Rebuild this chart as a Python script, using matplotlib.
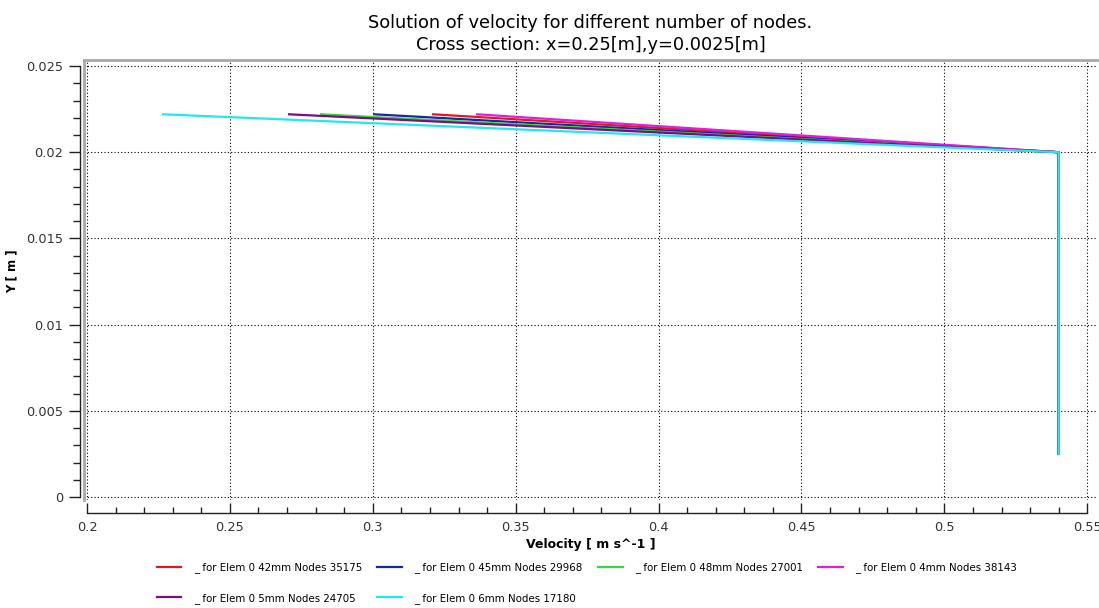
import matplotlib
matplotlib.use("Agg")
import matplotlib.pyplot as plt
from matplotlib.ticker import MultipleLocator

# velocity profiles for each mesh: top of the profile, corner point, wall
labels = [
    "_ for Elem 0 42mm Nodes 35175",
    "_ for Elem 0 45mm Nodes 29968",
    "_ for Elem 0 48mm Nodes 27001",
    "_ for Elem 0 4mm Nodes 38143",
    "_ for Elem 0 5mm Nodes 24705",
    "_ for Elem 0 6mm Nodes 17180",
]
colors = ["#e01a1a", "#1428a8", "#3ad83a", "#e01ee0", "#7e0a86", "#22e8ee"]
v_top = [0.3211, 0.3005, 0.2819, 0.3365, 0.2707, 0.2266]
y_top = [0.0222, 0.0222, 0.0222, 0.0222, 0.0222, 0.0222]
v_wall = 0.540
y_corner = 0.0200
y_bottom = 0.0025

plt.rcParams["font.family"] = ["DejaVu Sans"]

fig = plt.figure(figsize=(10.99, 6.08), dpi=100)
ax = fig.add_axes([84 / 1099, 1 - 500 / 608, (1097 - 84) / 1099, 440 / 608])

handles = []
for lab, col, vt, yt in zip(labels, colors, v_top, y_top):
    h, = ax.plot([vt, v_wall, v_wall], [yt, y_corner, y_bottom],
                 color=col, lw=1.6, solid_joinstyle="miter")
    handles.append(h)

ax.set_xlim(0.19895, 0.5534)
ax.set_ylim(-0.000174, 0.02535)

ax.xaxis.set_minor_locator(MultipleLocator(0.01))
ax.yaxis.set_minor_locator(MultipleLocator(0.001))
ax.set_xticks([0.2, 0.25, 0.3, 0.35, 0.4, 0.45, 0.5, 0.55])
ax.set_xticklabels(["0.2", "0.25", "0.3", "0.35", "0.4", "0.45", "0.5", "0.55"])
ax.set_yticks([0, 0.005, 0.01, 0.015, 0.02, 0.025])
ax.set_yticklabels(["0", "0.005", "0.01", "0.015", "0.02", "0.025"])

ax.grid(True, which="major", color="black", linestyle=(0, (1, 2)), lw=0.8)

# gray frame on top and left, black axes pushed outwards
ax.spines["top"].set_color("#a8a8a8")
ax.spines["top"].set_linewidth(2)
ax.spines["right"].set_visible(False)
ax.plot([0, 0], [0, 1], transform=ax.transAxes, color="#a8a8a8",
        lw=2, clip_on=False)
ax.spines["left"].set_position(("outward", 3))
ax.spines["left"].set_bounds(0, 0.025)
ax.spines["bottom"].set_position(("outward", 9))
ax.spines["bottom"].set_bounds(0.2, 0.55)
for s in ("left", "bottom"):
    ax.spines[s].set_color("#222222")
    ax.spines[s].set_linewidth(1.0)

ax.tick_params(axis="y", which="major", direction="out", length=8,
               width=1, labelsize=9.3, labelcolor="#333333",
               colors="#222222", pad=4)
ax.tick_params(axis="y", which="minor", direction="out", length=5, width=1,
               colors="#222222")
ax.tick_params(axis="x", which="major", direction="in", length=7,
               width=1, labelsize=9.3, labelcolor="#333333",
               colors="#222222", pad=6)
ax.tick_params(axis="x", which="minor", direction="in", length=4, width=1,
               colors="#222222")

ax.set_title("Solution of velocity for different number of nodes.\n"
             "Cross section: x=0.25[m],y=0.0025[m]",
             fontsize=12.8, pad=7, linespacing=1.32)
ax.set_xlabel("Velocity [ m s^-1 ]", fontsize=9, fontweight="bold",
              labelpad=3)
ax.set_ylabel("Y [ m ]", fontsize=8.5, fontweight="bold")
ax.yaxis.set_label_coords(-0.065, 0.52)

# legend is filled column by column, so order entries to read row-wise
order = [0, 4, 1, 5, 2, 3]
fig.legend([handles[i] for i in order], [labels[i] for i in order],
           loc="upper center", bbox_to_anchor=(587 / 1099, 1 - 557 / 608),
           ncol=4, frameon=False, fontsize=7.4, handlelength=2.4,
           handletextpad=1.2, columnspacing=1.5, labelspacing=1.95,
           borderpad=0)

fig.savefig("out.png", dpi=100)
